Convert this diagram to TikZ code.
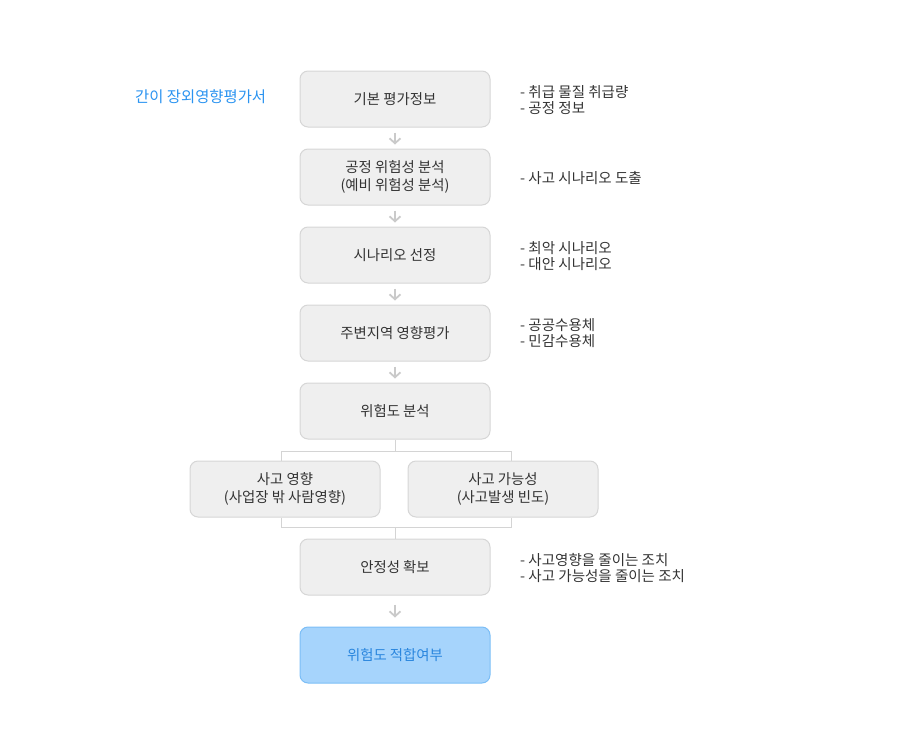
\documentclass[tikz,border=0pt]{standalone}
\usepackage{fontspec}
\setmainfont{Noto Sans CJK KR}
\usepackage{xcolor}
\usetikzlibrary{positioning,calc,arrows.meta}

\definecolor{boxfill}{HTML}{EFEFEF}
\definecolor{boxline}{HTML}{D6D6D6}
\definecolor{linkgray}{HTML}{D4D4D4}
\definecolor{arrowgray}{HTML}{CACACA}
\definecolor{textgray}{HTML}{333333}
\definecolor{titleblue}{HTML}{2A93F0}
\definecolor{resultfill}{HTML}{A6D4FC}
\definecolor{resultline}{HTML}{7CBEF6}
\definecolor{resulttext}{HTML}{2A86DE}

\tikzset{
  stepbox/.style={draw=boxline, fill=boxfill, rounded corners=8pt, line width=1pt,
    minimum width=190pt, minimum height=56pt, inner sep=0pt, align=center,
    text=textgray, font=\fontsize{14.4}{18}\selectfont},
  resultbox/.style={stepbox, draw=resultline, fill=resultfill, text=resulttext},
  note/.style={anchor=west, align=left, text=textgray, inner sep=0pt,
    font=\fontsize{14.5}{16}\selectfont},
  flow/.style={draw=arrowgray, line width=1.8pt, -{Straight Barb[length=5pt,width=11pt]}},
  link/.style={draw=linkgray, line width=1pt},
}

\begin{document}
\begin{tikzpicture}[x=1pt, y=-1pt]
    \useasboundingbox (0,0) rectangle (898,750);

    \node[text=titleblue, font=\fontsize{15.4}{18}\selectfont, anchor=west, inner sep=0pt] (title) at (135,97) {간이 장외영향평가서};

    % connectors of the branch
    \coordinate (forkT) at (395,451);
    \coordinate (forkL) at (281,451);
    \coordinate (forkR) at (511,451);
    \coordinate (joinT) at (395,527);
    \coordinate (joinL) at (281,527);
    \coordinate (joinR) at (511,527);

    % main column
    \node[stepbox] (basic) at (395,99) {기본 평가정보};
    \node[stepbox] (process) at (395,177) {공정 위험성 분석\\(예비 위험성 분석)};
    \node[stepbox] (scenario) at (395,255) {시나리오 선정};
    \node[stepbox] (region) at (395,333) {주변지역 영향평가};
    \node[stepbox] (risk) at (395,411) {위험도 분석};
    \node[stepbox] (impact) at (285,489) {사고 영향\\(사업장 밖 사람영향)};
    \node[stepbox] (likelihood) at (503,489) {사고 가능성\\(사고발생 빈도)};
    \node[stepbox] (safety) at (395,567) {안정성 확보};
    \node[resultbox] (result) at (395,655) {위험도 적합여부};

    % arrows between steps
    \draw[flow] ([yshift=-5pt]basic.south) -- ([yshift=4pt]process.north);
    \draw[flow] ([yshift=-5pt]process.south) -- ([yshift=4pt]scenario.north);
    \draw[flow] ([yshift=-5pt]scenario.south) -- ([yshift=4pt]region.north);
    \draw[flow] ([yshift=-5pt]region.south) -- ([yshift=4pt]risk.north);
    \draw[flow] ([yshift=-9pt]safety.south) -- ([yshift=9pt]result.north);

    % branch
    \draw[link] (risk.south) -- (forkT);
    \draw[link] (impact.north -| forkL) -- (forkL) -- (forkR) -- (likelihood.north -| forkR);
    \draw[link] (impact.south -| joinL) -- (joinL) -- (joinR) -- (likelihood.south -| joinR);
    \draw[link] (joinT) -- (safety.north);

    % notes
    \node[note] (basicnote) at (520,100) {- 취급 물질 취급량\\- 공정 정보};
    \node[note] (processnote) at (520,178) {- 사고 시나리오 도출};
    \node[note] (scenarionote) at (520,256) {- 최악 시나리오\\- 대안 시나리오};
    \node[note] (regionnote) at (520,333) {- 공공수용체\\- 민감수용체};
    \node[note] (safetynote) at (520,568) {- 사고영향을 줄이는 조치\\- 사고 가능성을 줄이는 조치};
\end{tikzpicture}
\end{document}
